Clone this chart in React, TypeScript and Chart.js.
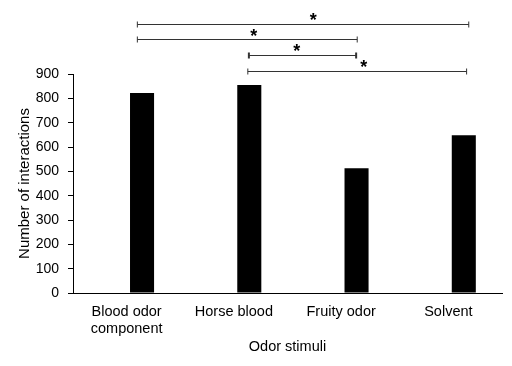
import React, { useEffect, useRef } from "react";
import { Chart, registerables } from "chart.js";

Chart.register(...registerables);

const categories: (string | string[])[] = [["Blood odor", "component"], "Horse blood", "Fruity odor", "Solvent"];
const interactions = [822, 855, 513, 648];
const yTicks = [0, 100, 200, 300, 400, 500, 600, 700, 800, 900];
// significance brackets: [fromCategory, toCategory, yLevel]
const bracketFrom = [0.1, 0.1, 1.14, 1.13];
const bracketTo = [3.19, 2.15, 2.14, 3.17];
const bracketLevel = [1105, 1045, 978, 914];
const starX = [1.74, 1.185, 1.586, 2.21];
const starLevel = [1136, 1070, 1008, 942];
const thickCaps = [false, false, true, false];

const FONT = "'Liberation Sans', Arial, sans-serif";

const bracketPlugin = {
  id: "sigBrackets",
  afterDraw(chart: any) {
    const { ctx, scales } = chart;
    const xs = scales.x;
    const ys = scales.y;
    ctx.save();
    for (let i = 0; i < bracketFrom.length; i++) {
      const x1 = xs.getPixelForValue(bracketFrom[i]);
      const x2 = xs.getPixelForValue(bracketTo[i]);
      const y = Math.round(ys.getPixelForValue(bracketLevel[i])) + 0.5;
      ctx.strokeStyle = "#333";
      ctx.lineWidth = 1;
      ctx.beginPath();
      ctx.moveTo(x1, y);
      ctx.lineTo(x2, y);
      ctx.stroke();
      ctx.lineWidth = thickCaps[i] ? 2 : 1;
      ctx.beginPath();
      ctx.moveTo(x1, y - 3);
      ctx.lineTo(x1, y + 3);
      ctx.moveTo(x2, y - 3);
      ctx.lineTo(x2, y + 3);
      ctx.stroke();
      const sx = xs.getPixelForValue(starX[i]);
      const sy = ys.getPixelForValue(starLevel[i]);
      ctx.fillStyle = "#000";
      ctx.font = `bold 18px ${FONT}`;
      ctx.textAlign = "center";
      ctx.textBaseline = "middle";
      ctx.fillText("*", sx, sy + 4);
    }
    ctx.restore();
  },
};

export default function App() {
  const ref = useRef<HTMLCanvasElement>(null);
  useEffect(() => {
    document.body.style.margin = "0";
    const chart = new Chart(ref.current!, {
      type: "bar",
      data: {
        labels: categories,
        datasets: [
          { label: "spacer", data: categories.map(() => null), backgroundColor: "#000" },
          { label: "Interactions", data: interactions, backgroundColor: "#000", borderWidth: 0 },
        ],
      },
      options: {
        responsive: false,
        animation: false,
        maintainAspectRatio: false,
        layout: { padding: { top: 74, right: 10, left: 0, bottom: 0 } },
        datasets: { bar: { categoryPercentage: 0.575, barPercentage: 0.78 } },
        plugins: { legend: { display: false }, tooltip: { enabled: false } },
        scales: {
          x: {
            grid: { display: false, drawTicks: false },
            border: { display: true, color: "#000", width: 1 },
            ticks: { color: "#000", font: { family: FONT, size: 14.5 }, padding: 10, maxRotation: 0 },
            title: { display: true, text: "Odor stimuli", color: "#000", font: { family: FONT, size: 14.5 }, padding: { top: 0, bottom: 10 } },
            afterFit: (s: any) => { s.width = s.width; s.height = 73; },
          },
          y: {
            min: 0,
            max: 900,
            afterBuildTicks: (s: any) => { s.ticks = yTicks.map((v) => ({ value: v })); },
            grid: { display: true, drawOnChartArea: false, drawTicks: true, tickLength: 5, color: "#000", tickColor: "#000" },
            border: { display: true, color: "#000", width: 1 },
            ticks: { color: "#000", font: { family: FONT, size: 14 }, padding: 9 },
            title: { display: true, text: "Number of interactions", color: "#000", font: { family: FONT, size: 15 }, padding: { top: 16, bottom: 0 } },
            afterFit: (s: any) => { s.width = 73; },
          },
        },
      },
      plugins: [bracketPlugin],
    });
    return () => chart.destroy();
  }, []);
  return (
    <div style={{ width: 512, height: 366 }}>
      <canvas ref={ref} width={512} height={366} style={{ display: "block" }} />
    </div>
  );
}
